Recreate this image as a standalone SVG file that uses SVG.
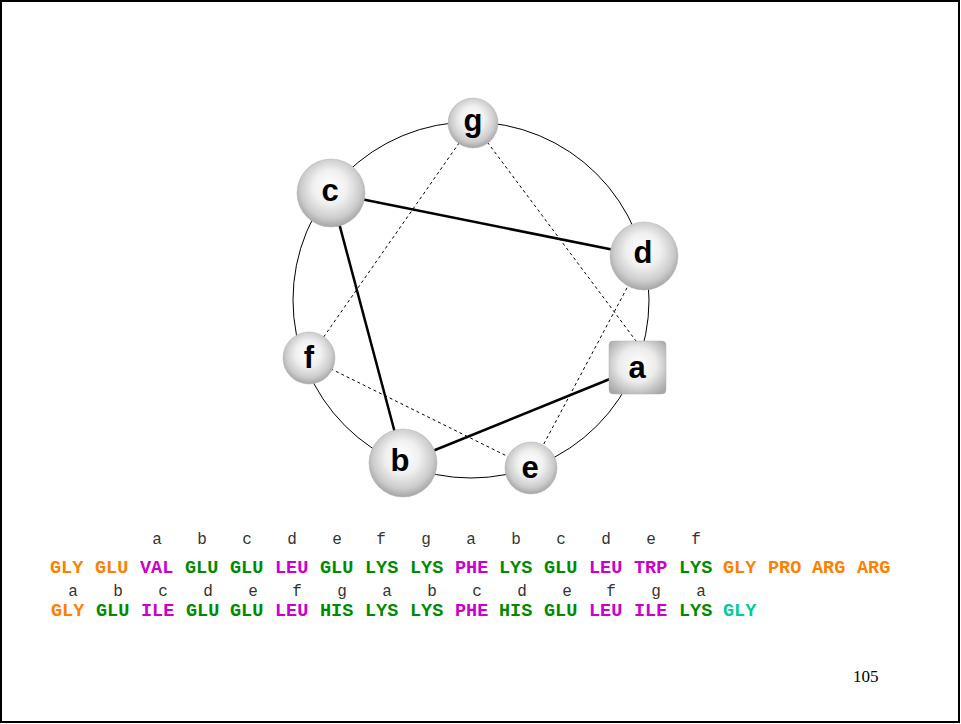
<svg xmlns="http://www.w3.org/2000/svg" width="961" height="724" viewBox="0 0 961 724">
<defs>
<radialGradient id="sph" cx="50%" cy="45%" r="55%" fx="48%" fy="38%">
<stop offset="0" stop-color="#ffffff"/>
<stop offset="0.45" stop-color="#f0f0f0"/>
<stop offset="0.8" stop-color="#cccccc"/>
<stop offset="1" stop-color="#a5a5a5"/>
</radialGradient>
<radialGradient id="box" cx="50%" cy="45%" r="65%">
<stop offset="0" stop-color="#ffffff"/>
<stop offset="0.5" stop-color="#ececec"/>
<stop offset="1" stop-color="#a9a9a9"/>
</radialGradient>
</defs>
<style>
.node circle{fill:url(#sph);stroke:#b0b0b0;stroke-width:0.5}
.node rect{fill:url(#box);stroke:#b0b0b0;stroke-width:0.5}
.lbl{font-family:"Liberation Sans",Arial,sans-serif;font-weight:bold;font-size:31px;text-anchor:middle;fill:#000}
.solid{stroke:#000;stroke-width:2.5;fill:none}
.dash{stroke:#000;stroke-width:1;stroke-dasharray:3,3;fill:none}
.seq{font-family:"Liberation Mono","Courier New",monospace;font-weight:bold;font-size:18.5px}
.hep{font-family:"Liberation Mono","Courier New",monospace;font-size:16px;fill:#333;text-anchor:middle}
.o{fill:#ff8000}.g{fill:#008a00}.m{fill:#cc00cc}.t{fill:#00cc99}
</style>
<rect x="1" y="1" width="958" height="721" fill="#fff" stroke="#000" stroke-width="2"/>
<g id="connectors">
<circle cx="471" cy="300" r="178" fill="none" stroke="#000" stroke-width="1"/>
<line class="solid" x1="331" y1="193" x2="644" y2="256"/>
<line class="solid" x1="331" y1="193" x2="403" y2="463"/>
<line class="solid" x1="403" y1="463" x2="637" y2="368"/>
<line class="dash" x1="473" y1="123" x2="309" y2="358"/>
<line class="dash" x1="473" y1="123" x2="639" y2="345"/>
<line class="dash" x1="309" y1="358" x2="531" y2="468"/>
<line class="dash" x1="644" y1="256" x2="531" y2="468"/>
</g>
<g id="node-g" class="node"><circle cx="473" cy="123" r="25"/><text class="lbl" x="473" y="131">g</text></g>
<g id="node-c" class="node"><circle cx="331" cy="193" r="34"/><text class="lbl" x="330" y="201">c</text></g>
<g id="node-d" class="node"><circle cx="644" cy="256" r="34"/><text class="lbl" x="643" y="263">d</text></g>
<g id="node-a" class="node"><rect x="609" y="341" width="57" height="53" rx="4"/><text class="lbl" x="637" y="378">a</text></g>
<g id="node-f" class="node"><circle cx="309" cy="358" r="26"/><text class="lbl" x="309" y="368">f</text></g>
<g id="node-b" class="node"><circle cx="403" cy="463" r="34"/><text class="lbl" x="400" y="471">b</text></g>
<g id="node-e" class="node"><circle cx="531" cy="468" r="26"/><text class="lbl" x="530" y="478">e</text></g>
<g id="seq1">
<text class="hep" y="544"><tspan x="157">a</tspan><tspan x="202">b</tspan><tspan x="247">c</tspan><tspan x="292">d</tspan><tspan x="337">e</tspan><tspan x="381">f</tspan><tspan x="426">g</tspan><tspan x="471">a</tspan><tspan x="516">b</tspan><tspan x="561">c</tspan><tspan x="606">d</tspan><tspan x="651">e</tspan><tspan x="696">f</tspan></text>
<text class="seq" y="573"><tspan class="o" x="50">GLY</tspan><tspan class="o" x="95">GLU</tspan><tspan class="m" x="140">VAL</tspan><tspan class="g" x="185">GLU</tspan><tspan class="g" x="230">GLU</tspan><tspan class="m" x="275">LEU</tspan><tspan class="g" x="320">GLU</tspan><tspan class="g" x="365">LYS</tspan><tspan class="g" x="410">LYS</tspan><tspan class="m" x="455">PHE</tspan><tspan class="g" x="499">LYS</tspan><tspan class="g" x="544">GLU</tspan><tspan class="m" x="589">LEU</tspan><tspan class="m" x="634">TRP</tspan><tspan class="g" x="679">LYS</tspan><tspan class="o" x="723">GLY</tspan><tspan class="o" x="768">PRO</tspan><tspan class="o" x="812">ARG</tspan><tspan class="o" x="857">ARG</tspan></text>
</g>
<g id="seq2">
<text class="hep" y="596"><tspan x="73">a</tspan><tspan x="118">b</tspan><tspan x="163">c</tspan><tspan x="208">d</tspan><tspan x="253">e</tspan><tspan x="297">f</tspan><tspan x="342">g</tspan><tspan x="387">a</tspan><tspan x="432">b</tspan><tspan x="477">c</tspan><tspan x="522">d</tspan><tspan x="567">e</tspan><tspan x="611">f</tspan><tspan x="656">g</tspan><tspan x="701">a</tspan></text>
<text class="seq" y="616"><tspan class="o" x="51">GLY</tspan><tspan class="g" x="96">GLU</tspan><tspan class="m" x="141">ILE</tspan><tspan class="g" x="186">GLU</tspan><tspan class="g" x="230">GLU</tspan><tspan class="m" x="275">LEU</tspan><tspan class="g" x="320">HIS</tspan><tspan class="g" x="365">LYS</tspan><tspan class="g" x="410">LYS</tspan><tspan class="m" x="455">PHE</tspan><tspan class="g" x="499">HIS</tspan><tspan class="g" x="544">GLU</tspan><tspan class="m" x="589">LEU</tspan><tspan class="m" x="634">ILE</tspan><tspan class="g" x="679">LYS</tspan><tspan class="t" x="723">GLY</tspan></text>
</g>
<text x="853" y="682" font-family="'Liberation Serif','Times New Roman',serif" font-size="17" fill="#000">105</text>
</svg>
